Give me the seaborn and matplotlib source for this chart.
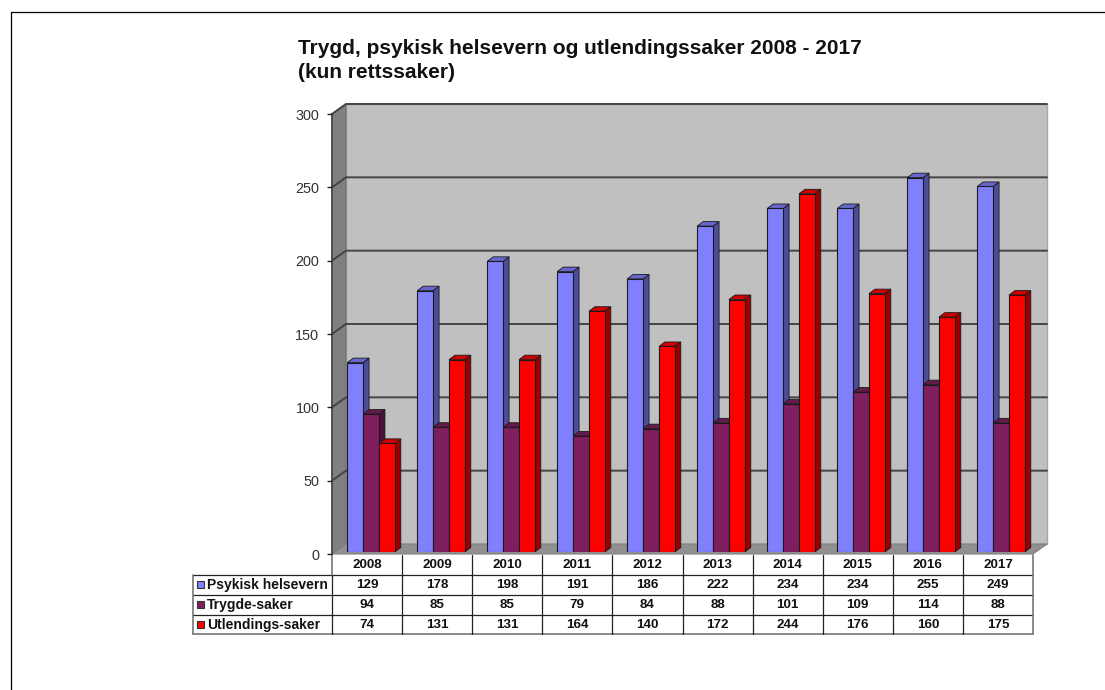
#!/usr/bin/env python3
#
# Trygd, psykisk helsevern og utlendingssaker 2008 - 2017
#
import numpy as np
import pandas
import matplotlib
matplotlib.use('Agg')
import matplotlib.pyplot as plt
import seaborn

seaborn.set_style('white')
plt.rcParams['font.family'] = ['Liberation Sans', 'DejaVu Sans']

# Data
years = ['2008', '2009', '2010', '2011', '2012',
         '2013', '2014', '2015', '2016', '2017']
series_names = ['Psykisk helsevern', 'Trygde-saker', 'Utlendings-saker']
psykisk = [129, 178, 198, 191, 186, 222, 234, 234, 255, 249]
trygde = [94, 85, 85, 79, 84, 88, 101, 109, 114, 88]
utlendings = [74, 131, 131, 164, 140, 172, 244, 176, 160, 175]
yticks = [0, 50, 100, 150, 200, 250, 300]

# Colours: front, side, top
fronts = ['#8080ff', '#7f1f5f', '#ff0000']
sides = ['#4c4c99', '#4c1339', '#990000']
tops = ['#6666cc', '#661a4c', '#cc0000']

# Figure size and pixel helpers
W, H = 1105, 690


def axes_px(x0, y_top, x1, y_bottom, **kwargs):
    return fig.add_axes(
        [x0 / W, 1 - y_bottom / H, (x1 - x0) / W, (y_bottom - y_top) / H],
        **kwargs)


fig = plt.figure(figsize=(W / 100, H / 100), dpi=100, facecolor='white')

# Full figure layer in pixels, for walls, page frame and table
bg = axes_px(0, 0, W, H, zorder=0)
bg.set_xlim(0, W)
bg.set_ylim(H, 0)
bg.axis('off')

# Plot box geometry
left, right = 332, 1033
front_top, front_bottom = 114, 554
dx, dy = 14, 10

# Page frame
bg.plot([10.7, 10.7, W], [H, 12.3, 12.3], color='black', lw=0.9,
        solid_joinstyle='miter')

# Walls and floor
bg.fill([left + dx, right + dx, right + dx, left + dx],
        [front_top - dy, front_top - dy, front_bottom - dy, front_bottom - dy],
        facecolor='#c0c0c0', edgecolor='#a8a8a8', lw=1)
bg.fill([left, left + dx, left + dx, left],
        [front_top, front_top - dy, front_bottom - dy, front_bottom],
        facecolor='#808080', edgecolor='#707070', lw=0.8)
bg.fill([left, left + dx, right + dx, right],
        [front_bottom, front_bottom - dy, front_bottom - dy, front_bottom],
        facecolor='#909090', edgecolor='#808080', lw=0.8)
bg.plot([left, left], [front_top, front_bottom], color='#444444', lw=1.2)

# Grid lines on back and side wall
scale = (front_bottom - front_top) / yticks[-1]
for t in yticks[1:]:
    y = front_bottom - t * scale
    bg.plot([left, left + dx, right + dx], [y, y - dy, y - dy],
            color='#444444', lw=1.4)

# Tick axis, without marks
tick_ax = axes_px(left, front_top, right, front_bottom, zorder=1)
tick_ax.patch.set_alpha(0)
tick_ax.set_ylim(0, yticks[-1])
tick_ax.set_xticks([])
tick_ax.set_yticks(yticks)
for s in tick_ax.spines.values():
    s.set_visible(False)
tick_ax.tick_params(axis='y', left=True, length=3.6, width=1, color='#222222',
                    pad=5.5, labelsize=10.4, labelcolor='#333333')

# Bars, base 2 px above the front edge of the floor
df = pandas.DataFrame({
    'year': years * 3,
    'cases': psykisk + trygde + utlendings,
    'series': np.repeat(series_names, len(years)),
})
bar_scale = 1.468
bar_base = 552
ax = axes_px(left, bar_base - yticks[-1] * bar_scale, left + 700, bar_base,
             zorder=2)
ax.patch.set_alpha(0)
seaborn.barplot(
    data=df, x='year', y='cases', hue='series', hue_order=series_names,
    order=years, palette=dict(zip(series_names, fronts)), saturation=1,
    width=0.68, gap=0, edgecolor='#1a1a1a', linewidth=0.8, legend=False,
    ax=ax)
ax.set_xlim(-0.5 - 4 / 70, 9.5 - 4 / 70)
ax.set_ylim(0, yticks[-1])
ax.axis('off')

# 3D side and top of each bar, taken from the bar drawn by seaborn
depth_x = 6 / 70
depth_y = 4.5 / bar_scale
for i, container in enumerate(ax.containers):
    for bar in container:
        x0, x1 = bar.get_x(), bar.get_x() + bar.get_width()
        h = bar.get_height()
        bar.set_zorder(3 + i + 0.5)
        ax.fill([x1, x1 + depth_x, x1 + depth_x, x1],
                [0, depth_y, h + depth_y, h], facecolor=sides[i],
                edgecolor='#1a1a1a', lw=0.6, zorder=3 + i)
        ax.fill([x0, x0 + depth_x, x1 + depth_x, x1],
                [h, h + depth_y, h + depth_y, h], facecolor=tops[i],
                edgecolor='#1a1a1a', lw=0.6, zorder=3 + i)

# Data table
table_left = 193
col_w = (right - left) / len(years)
row_y = [555, 575, 594.5, 614.5, 634]
line = {'color': '#222222', 'lw': 0.9}
edge = {'color': '#777777', 'lw': 1.2}
for y in row_y[1:-1]:
    bg.plot([table_left, right], [y, y], **line)
bg.plot([table_left, right], [row_y[-1], row_y[-1]], **edge)
bg.plot([table_left, table_left], [row_y[1], row_y[-1]], **edge)
bg.plot([right, right], [row_y[0], row_y[-1]], **edge)
bg.plot([left, left], [row_y[0], row_y[1]], **edge)
bg.plot([left, left], [row_y[1], row_y[-1]], **line)
for i in range(1, len(years)):
    x = left + i * col_w
    bg.plot([x, x], [row_y[0], row_y[-1]], **line)

text_args = {'fontweight': 'bold', 'color': '#111111', 'va': 'center'}
for i, year in enumerate(years):
    x = left + (i + 0.5) * col_w
    bg.text(x, (row_y[0] + row_y[1]) / 2 + 0.5, year, ha='center',
            fontsize=9.6, **text_args)
for r, values in enumerate([psykisk, trygde, utlendings]):
    y = (row_y[r + 1] + row_y[r + 2]) / 2 + 0.5
    bg.fill([197, 204, 204, 197], [y - 4, y - 4, y + 3, y + 3],
            facecolor=fronts[r], edgecolor='#333333', lw=0.8)
    bg.text(207, y, series_names[r], ha='left', fontsize=10, **text_args)
    for i, v in enumerate(values):
        bg.text(left + (i + 0.5) * col_w, y, str(v), ha='center',
                fontsize=9.6, **text_args)

# Title
bg.text(298, 48.5, 'Trygd, psykisk helsevern og utlendingssaker 2008 - 2017',
        fontsize=15, fontweight='bold', color='#111111', va='center')
bg.text(298, 73, '(kun rettssaker)', fontsize=15, fontweight='bold',
        color='#111111', va='center')

plt.savefig('out.png', dpi=100)
